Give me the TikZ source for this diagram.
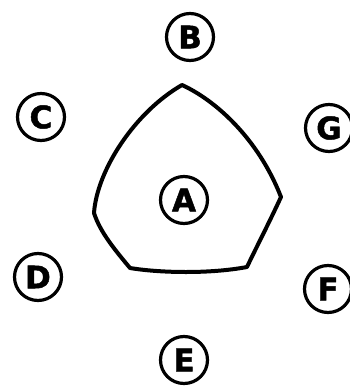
\documentclass[tikz,border=0pt]{standalone}
\usepackage{fontspec}
\setmainfont{DejaVu Sans}
\newfontfamily\heavy{DejaVu Sans}[BoldFeatures={FakeBold=1.5}]
\begin{document}
\begin{tikzpicture}[x=1pt,y=-1pt,
  lbl/.style={circle,draw,line width=3.2pt,minimum size=47pt,inner sep=0pt,font=\heavy\fontsize{31}{31}\selectfont\bfseries},
  blob/.style={line width=4pt,line join=round}]
\useasboundingbox[fill=white] (0,0) rectangle (350,391);
\node[lbl] (A) at (184,200) {A};
\node[lbl] (B) at (190,37) {B};
\node[lbl] (C) at (41,117) {C};
\node[lbl] (G) at (329,128) {G};
\node[lbl] (D) at (38,277) {D};
\node[lbl] (E) at (184,360) {E};
\node[lbl] (F) at (328,289) {F};
\coordinate (t) at (182,85);
\coordinate (r) at (281,197);
\coordinate (br) at (247,267);
\coordinate (bl) at (130,268);
\coordinate (l) at (94,213);
\draw[blob] (t) .. controls (215,100) and (258,138) .. (r)
  .. controls (268,225) and (255,250) .. (br)
  .. controls (210,274) and (160,273) .. (bl)
  .. controls (115,250) and (100,232) .. (l)
  .. controls (97,170) and (135,112) .. cycle;
\end{tikzpicture}
\end{document}
